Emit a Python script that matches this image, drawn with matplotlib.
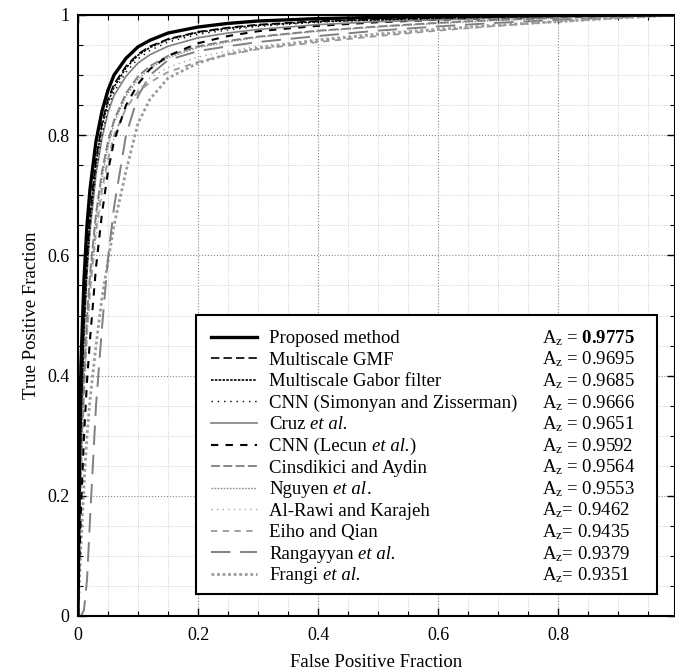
import matplotlib
matplotlib.use('Agg')
import matplotlib.pyplot as plt
from matplotlib.patches import Rectangle
from matplotlib.font_manager import FontProperties
from matplotlib.ticker import MultipleLocator, FuncFormatter

plt.rcParams.update({
    'font.family': ['Liberation Serif', 'DejaVu Serif'],
    'mathtext.fontset': 'custom',
    'mathtext.rm': 'Liberation Serif',
    'mathtext.it': 'Liberation Serif:italic',
    'mathtext.bf': 'Liberation Serif:bold',
})

# ---- data ----
fpr = [0, 0.0025, 0.005, 0.01, 0.015, 0.02, 0.03, 0.04, 0.05, 0.06, 0.08, 0.10,
       0.12, 0.15, 0.2, 0.25, 0.3, 0.4, 0.5, 0.6, 0.7, 0.8, 0.9, 1.0]

tpr_proposed = [0, 0.30, 0.42, 0.56, 0.65, 0.71, 0.79, 0.84, 0.875, 0.90, 0.928, 0.947,
                0.958, 0.970, 0.980, 0.986, 0.990, 0.994, 0.996, 0.998, 0.999, 0.9995, 1, 1]
tpr_gmf = [0, 0.22, 0.35, 0.50, 0.60, 0.67, 0.76, 0.82, 0.86, 0.885, 0.915, 0.935,
           0.948, 0.960, 0.972, 0.979, 0.984, 0.990, 0.993, 0.995, 0.997, 0.998, 0.999, 1]
tpr_gabor = [0, 0.20, 0.33, 0.48, 0.59, 0.66, 0.755, 0.815, 0.855, 0.88, 0.912, 0.933,
             0.946, 0.959, 0.971, 0.978, 0.983, 0.989, 0.992, 0.995, 0.997, 0.998, 0.999, 1]
tpr_simonyan = [0, 0.18, 0.31, 0.47, 0.57, 0.645, 0.74, 0.80, 0.845, 0.872, 0.905, 0.927,
                0.941, 0.955, 0.968, 0.975, 0.981, 0.988, 0.992, 0.994, 0.996, 0.998, 0.999, 1]
tpr_cruz = [0, 0.20, 0.32, 0.47, 0.57, 0.64, 0.735, 0.795, 0.838, 0.866, 0.898, 0.92,
            0.934, 0.948, 0.962, 0.970, 0.976, 0.984, 0.989, 0.992, 0.995, 0.997, 0.999, 1]
tpr_lecun = [0, 0.10, 0.18, 0.30, 0.39, 0.46, 0.58, 0.67, 0.74, 0.79, 0.85, 0.885,
             0.91, 0.932, 0.953, 0.965, 0.973, 0.982, 0.988, 0.992, 0.995, 0.997, 0.999, 1]
tpr_cinsdikici = [0, 0.15, 0.26, 0.40, 0.50, 0.57, 0.67, 0.74, 0.79, 0.825, 0.87, 0.898,
                  0.915, 0.932, 0.948, 0.957, 0.964, 0.974, 0.981, 0.987, 0.992, 0.995, 0.998, 1]
tpr_nguyen = [0, 0.14, 0.25, 0.39, 0.49, 0.56, 0.66, 0.73, 0.78, 0.82, 0.865, 0.893,
              0.911, 0.929, 0.946, 0.955, 0.963, 0.973, 0.980, 0.986, 0.991, 0.995, 0.998, 1]
tpr_alrawi = [0, 0.12, 0.22, 0.36, 0.46, 0.53, 0.63, 0.70, 0.755, 0.795, 0.845, 0.875,
              0.895, 0.913, 0.93, 0.94, 0.948, 0.96, 0.97, 0.978, 0.985, 0.991, 0.996, 1]
tpr_eiho = [0, 0.13, 0.23, 0.37, 0.47, 0.54, 0.64, 0.71, 0.76, 0.80, 0.845, 0.872,
            0.888, 0.905, 0.922, 0.934, 0.943, 0.955, 0.965, 0.974, 0.982, 0.989, 0.995, 1]
tpr_rangayyan = [0, 0, 0, 0.01, 0.06, 0.16, 0.35, 0.48, 0.595, 0.68, 0.80, 0.865,
                 0.90, 0.925, 0.94, 0.948, 0.955, 0.965, 0.974, 0.981, 0.987, 0.992, 0.996, 1]
tpr_frangi = [0, 0.06, 0.12, 0.22, 0.30, 0.36, 0.45, 0.53, 0.59, 0.65, 0.74, 0.82,
              0.86, 0.895, 0.92, 0.935, 0.945, 0.958, 0.968, 0.976, 0.983, 0.989, 0.995, 1]

# *...* marks italic text
names = ['Proposed method', 'Multiscale GMF', 'Multiscale Gabor filter',
         'CNN (Simonyan and Zisserman)', 'Cruz *et al.*', 'CNN (Lecun *et al.*)',
         'Cinsdikici and Aydin', 'Nguyen *et al*.', 'Al-Rawi and Karajeh',
         'Eiho and Qian', 'Rangayyan *et al.*', 'Frangi *et al.*']
az_labels = ['A$_\\mathrm{z}$ = $\\mathbf{0.9775}$', 'A$_\\mathrm{z}$ = 0.9695',
             'A$_\\mathrm{z}$ = 0.9685', 'A$_\\mathrm{z}$ = 0.9666', 'A$_\\mathrm{z}$ = 0.9651',
             'A$_\\mathrm{z}$ = 0.9592', 'A$_\\mathrm{z}$ = 0.9564', 'A$_\\mathrm{z}$ = 0.9553',
             'A$_\\mathrm{z}$= 0.9462', 'A$_\\mathrm{z}$= 0.9435', 'A$_\\mathrm{z}$= 0.9379',
             'A$_\\mathrm{z}$= 0.9351']
series = [tpr_proposed, tpr_gmf, tpr_gabor, tpr_simonyan, tpr_cruz, tpr_lecun,
          tpr_cinsdikici, tpr_nguyen, tpr_alrawi, tpr_eiho, tpr_rangayyan, tpr_frangi]

styles = [
    dict(color='black', lw=2.4, ls='-'),
    dict(color='black', lw=1.2, ls=(0, (5, 2.5))),
    dict(color='black', lw=1.2, ls=(0, (1.5, 0.8))),
    dict(color='black', lw=1.0, ls=(0, (1, 3.5))),
    dict(color='#808080', lw=1.2, ls='-'),
    dict(color='black', lw=1.5, ls=(0, (3.5, 3.5))),
    dict(color='#808080', lw=1.3, ls=(0, (5, 1.8))),
    dict(color='#8c8c8c', lw=1.0, ls=(0, (1.2, 1.0))),
    dict(color='#a8a8a8', lw=1.0, ls=(0, (1, 3))),
    dict(color='#999999', lw=1.3, ls=(0, (3.5, 3))),
    dict(color='#808080', lw=1.4, ls=(0, (10, 5))),
    dict(color='#9a9a9a', lw=2.0, ls=(0, (1, 1))),
]

W, H = 675, 672
FS = 13.5
fig = plt.figure(figsize=(W / 100, H / 100), dpi=100)
ax = fig.add_axes([78 / W, 56 / H, (W - 78) / W, 601 / H])

handles = [None] * len(series)
for i in reversed(range(len(series))):
    ln, = ax.plot(fpr, series[i], zorder=2 + (len(series) - i) * 0.01, **styles[i])
    handles[i] = ln

ax.set_xlim(0, 0.995)
ax.set_ylim(0, 1)
ax.xaxis.set_major_locator(MultipleLocator(0.2))
ax.yaxis.set_major_locator(MultipleLocator(0.2))
ax.xaxis.set_minor_locator(MultipleLocator(0.05))
ax.yaxis.set_minor_locator(MultipleLocator(0.05))
fmt = FuncFormatter(lambda v, p: '0' if abs(v) < 1e-9 else ('1' if abs(v - 1) < 1e-9 else f'{v:.1f}'))
ax.xaxis.set_major_formatter(fmt)
ax.yaxis.set_major_formatter(fmt)
ax.tick_params(which='both', direction='in', top=True, right=True, labelsize=13)
ax.tick_params(which='major', length=6, width=1.0, pad=6)
ax.tick_params(axis='x', which='major', pad=8)
ax.tick_params(which='minor', length=3.5, width=0.8)
ax.grid(which='major', ls=':', color='#888888', lw=0.8)
ax.grid(which='minor', ls=':', color='#c4c4c4', lw=0.6)
ax.set_axisbelow(True)
for s in ax.spines.values():
    s.set_linewidth(1.5)
ax.set_xlabel('False Positive Fraction', fontsize=13.5, labelpad=7)
ax.set_ylabel('True Positive Fraction', fontsize=13.5, labelpad=5)

# legend frame
ax.add_patch(Rectangle((196 / W, 1 - 594 / H), (657 - 196) / W, (594 - 315) / H,
                       transform=fig.transFigure, facecolor='white', edgecolor='black',
                       lw=1.5, zorder=4, clip_on=False))
plain = [n.replace('*', '') for n in names]
leg = ax.legend(handles, plain, loc='upper left', bbox_to_anchor=(211 / W, 1 - 330 / H),
                bbox_transform=fig.transFigure, frameon=False, fontsize=FS,
                handlelength=2.45, handletextpad=0.65, labelspacing=0.235,
                borderpad=0, borderaxespad=0)
leg.set_zorder(5)

fig.canvas.draw()
renderer = fig.canvas.get_renderer()
fp_n = FontProperties(family='Liberation Serif', size=FS)
fp_i = FontProperties(family='Liberation Serif', style='italic', size=FS)


def width(s, fp):
    return renderer.get_text_width_height_descent(s, fp, ismath=False)[0]


space_w = width('a a', fp_n) - width('aa', fp_n)

for t, name, az in zip(leg.get_texts(), names, az_labels):
    x, y = t.get_transform().transform(t.get_position())
    if '*' in name:
        t.set_visible(False)
        cx = x
        for k, part in enumerate(name.split('*')):
            if not part:
                continue
            fp = fp_i if k % 2 else fp_n
            lead = len(part) - len(part.lstrip(' '))
            trail = len(part) - len(part.rstrip(' '))
            core = part.strip(' ')
            cx += lead * space_w
            fig.text(cx / W, y / H, core, fontproperties=fp, ha='left', va='baseline', zorder=6)
            cx += width(core, fp) + trail * space_w
    fig.text(542 / W, y / H, az, fontsize=FS, ha='left', va='baseline', zorder=6)

fig.savefig('out.png', dpi=100)
